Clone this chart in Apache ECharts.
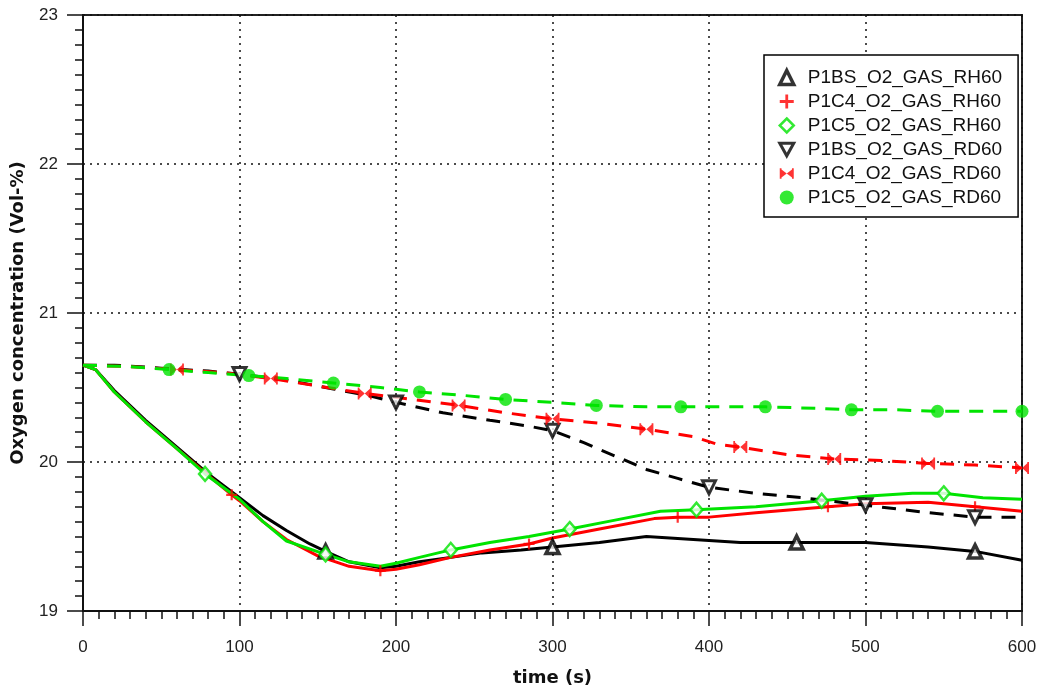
<!DOCTYPE html>
<html>
<head>
<meta charset="utf-8">
<script src="https://cdn.jsdelivr.net/npm/echarts@6/dist/echarts.min.js"></script>
<style>
html,body{margin:0;padding:0;background:#fff;}
#chart{width:1040px;height:692px;}
</style>
</head>
<body>
<div id="chart"></div>
<script>
// ---- data (time in s, oxygen concentration in Vol-%) ----
const seriesNames = ['P1BS_O2_GAS_RH60','P1C4_O2_GAS_RH60','P1C5_O2_GAS_RH60','P1BS_O2_GAS_RD60','P1C4_O2_GAS_RD60','P1C5_O2_GAS_RD60'];
const xTicks = [0,100,200,300,400,500,600];
const yTicks = [19,20,21,22,23];

// P1BS_O2_GAS_RH60 (black solid)
const tBsRh = [0,8,20,40,60,80,100,115,130,145,155,170,190,200,215,235,255,280,300,330,360,390,420,456,500,540,570,600];
const vBsRh = [20.65,20.62,20.48,20.28,20.10,19.92,19.76,19.64,19.54,19.45,19.40,19.33,19.29,19.30,19.33,19.36,19.39,19.41,19.43,19.46,19.50,19.48,19.46,19.46,19.46,19.43,19.40,19.34];
const mtBsRh = [155,300,456,570];
const mvBsRh = [19.40,19.43,19.46,19.40];

// P1C4_O2_GAS_RH60 (red solid)
const tC4Rh = [0,8,20,40,60,80,95,100,115,130,150,170,190,200,215,235,260,285,300,330,365,380,400,430,476,500,540,570,600];
const vC4Rh = [20.65,20.62,20.47,20.27,20.09,19.91,19.78,19.74,19.60,19.48,19.37,19.30,19.27,19.28,19.31,19.36,19.41,19.45,19.49,19.55,19.62,19.63,19.63,19.66,19.70,19.72,19.73,19.70,19.67];
const mtC4Rh = [95,190,285,380,476,570];
const mvC4Rh = [19.78,19.27,19.45,19.63,19.70,19.70];

// P1C5_O2_GAS_RH60 (green solid)
const tC5Rh = [0,8,20,40,60,78,100,115,130,155,170,190,200,215,235,260,285,311,340,369,392,430,472,500,530,550,575,600];
const vC5Rh = [20.65,20.62,20.47,20.27,20.09,19.92,19.75,19.60,19.47,19.38,19.33,19.30,19.32,19.36,19.41,19.46,19.50,19.55,19.61,19.67,19.68,19.70,19.74,19.77,19.79,19.79,19.76,19.75];
const mtC5Rh = [78,155,235,311,392,472,550];
const mvC5Rh = [19.92,19.38,19.41,19.55,19.68,19.74,19.79];

// P1BS_O2_GAS_RD60 (black dashed)
const tBsRd = [0,20,50,80,100,130,160,185,200,230,260,285,300,320,340,360,380,400,430,460,500,540,570,600];
const vBsRd = [20.65,20.65,20.63,20.61,20.59,20.55,20.49,20.44,20.40,20.33,20.28,20.24,20.21,20.13,20.04,19.95,19.89,19.83,19.79,19.76,19.71,19.66,19.63,19.63];
const mtBsRd = [100,200,300,400,500,570];
const mvBsRd = [20.59,20.40,20.21,19.83,19.71,19.63];

// P1C4_O2_GAS_RD60 (red dashed)
const tC4Rd = [0,30,60,90,120,150,180,210,240,270,300,330,360,390,405,420,450,480,510,540,570,600];
const vC4Rd = [20.65,20.64,20.62,20.60,20.56,20.51,20.46,20.42,20.38,20.33,20.29,20.26,20.22,20.17,20.12,20.10,20.05,20.02,20.01,19.99,19.98,19.96];
const mtC4Rd = [60,120,180,240,300,360,420,480,540,600];
const mvC4Rd = [20.62,20.56,20.46,20.38,20.29,20.22,20.10,20.02,19.99,19.96];

// P1C5_O2_GAS_RD60 (green dashed)
const tC5Rd = [0,30,55,80,106,130,160,190,215,240,270,300,328,360,400,436,470,491,520,546,600];
const vC5Rd = [20.65,20.64,20.62,20.60,20.58,20.56,20.53,20.50,20.47,20.45,20.42,20.40,20.38,20.37,20.37,20.37,20.36,20.35,20.35,20.34,20.34];
const mtC5Rd = [55,106,160,215,270,328,382,436,491,546,600];
const mvC5Rd = [20.62,20.58,20.53,20.47,20.42,20.38,20.37,20.37,20.35,20.34,20.34];

// ---- build ----
const zip = (a, b) => a.map((t, i) => [t, b[i]]);
const BLACK = '#000000', RED = '#ff0000', GREEN = '#00e400';
const PLUS = 'path://M4,0H6V4H10V6H6V10H4V6H0V4H4Z';
const TRI_DOWN = 'path://M0,0L10,0L5,9Z';
const BOWTIE = 'path://M0,0L1.5,0L1.5,1L6,4.5L10.5,1L10.5,0L12,0L12,9L10.5,9L10.5,8L6,4.5L1.5,8L1.5,9L0,9Z';

const defs = [
  {name: seriesNames[0], t: tBsRh, v: vBsRh, mt: mtBsRh, mv: mvBsRh, color: BLACK, dash: 'solid',
   symbol: 'triangle', size: 13, style: {color: '#fff', borderColor: BLACK, borderWidth: 3.5}},
  {name: seriesNames[1], t: tC4Rh, v: vC4Rh, mt: mtC4Rh, mv: mvC4Rh, color: RED, dash: 'solid',
   symbol: PLUS, size: 11, style: {color: RED}},
  {name: seriesNames[2], t: tC5Rh, v: vC5Rh, mt: mtC5Rh, mv: mvC5Rh, color: GREEN, dash: 'solid',
   symbol: 'diamond', size: [12, 14], style: {color: '#fff', borderColor: GREEN, borderWidth: 2.5}},
  {name: seriesNames[3], t: tBsRd, v: vBsRd, mt: mtBsRd, mv: mvBsRd, color: BLACK, dash: [14, 10],
   symbol: TRI_DOWN, size: 13, style: {color: '#fff', borderColor: BLACK, borderWidth: 3}},
  {name: seriesNames[4], t: tC4Rd, v: vC4Rd, mt: mtC4Rd, mv: mvC4Rd, color: RED, dash: [14, 10],
   symbol: BOWTIE, size: [14, 12], style: {color: RED}},
  {name: seriesNames[5], t: tC5Rd, v: vC5Rd, mt: mtC5Rd, mv: mvC5Rd, color: GREEN, dash: [14, 10],
   symbol: 'circle', size: 13, style: {color: GREEN}}
];

const series = [];
defs.forEach(d => {
  series.push({
    type: 'scatter', name: d.name, data: zip(d.mt, d.mv), symbol: d.symbol, symbolSize: d.size,
    itemStyle: Object.assign({}, d.style), z: 6, silent: true
  });
});
defs.forEach(d => {
  series.push({
    type: 'line', name: d.name, data: zip(d.t, d.v), showSymbol: false, symbol: 'none',
    lineStyle: {color: d.color, width: 3, type: d.dash}, itemStyle: {color: d.color}, z: 3, silent: true
  });
});

const legendData = defs.map(d => ({
  name: d.name, icon: d.symbol, itemStyle: Object.assign({}, d.style)
}));

const chart = echarts.init(document.getElementById('chart'), null, {renderer: 'canvas'});
chart.setOption({
  backgroundColor: '#ffffff',
  animation: false,
  grid: {left: 83, right: 18, top: 15, bottom: 77, show: true, borderColor: '#222', borderWidth: 2, backgroundColor: '#fff'},
  legend: {
    data: legendData, orient: 'vertical', left: 764, top: 55,
    padding: [13, 16, 10, 14], itemWidth: 14, itemHeight: 14, itemGap: 5,
    backgroundColor: '#fff', borderColor: '#000', borderWidth: 1.5, borderRadius: 0,
    selectedMode: false,
    textStyle: {fontFamily: 'Liberation Sans', fontSize: 19, color: '#111', padding: [0, 0, 0, 9]}
  },
  xAxis: {
    type: 'value', min: xTicks[0], max: xTicks[xTicks.length - 1], interval: 100,
    name: 'time (s)', nameLocation: 'middle', nameGap: 58,
    nameTextStyle: {fontFamily: 'DejaVu Sans', fontWeight: 'bold', fontSize: 18, color: '#111'},
    axisLine: {show: true, lineStyle: {color: '#111', width: 2}},
    axisTick: {show: true, inside: false, length: 15, lineStyle: {color: '#111', width: 1.5}},
    minorTick: {show: true, splitNumber: 10, length: 8, lineStyle: {color: '#111', width: 1.5}},
    axisLabel: {fontFamily: 'Liberation Sans', fontSize: 17, color: '#222', margin: 28},
    splitLine: {show: true, lineStyle: {color: '#111', type: [2, 5], width: 1.5}}
  },
  yAxis: {
    type: 'value', min: yTicks[0], max: yTicks[yTicks.length - 1], interval: 1,
    name: 'Oxygen concentration (Vol-%)', nameLocation: 'middle', nameGap: 56, nameRotate: 90,
    nameTextStyle: {fontFamily: 'DejaVu Sans', fontWeight: 'bold', fontSize: 18, color: '#111'},
    axisLine: {show: true, lineStyle: {color: '#111', width: 2}},
    axisTick: {show: true, inside: false, length: 16, lineStyle: {color: '#111', width: 1.5}},
    minorTick: {show: true, splitNumber: 10, length: 8, lineStyle: {color: '#111', width: 1.5}},
    axisLabel: {fontFamily: 'Liberation Sans', fontSize: 17, color: '#222', margin: 25},
    splitLine: {show: true, lineStyle: {color: '#111', type: [2, 5], width: 1.5}}
  },
  series: series
});
</script>
</body>
</html>
